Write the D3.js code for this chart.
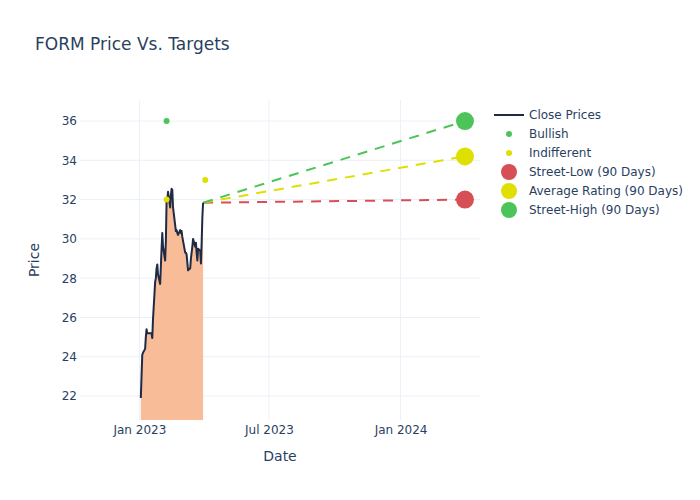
<!DOCTYPE html>
<html>
<head>
<meta charset="utf-8">
<script src="https://cdn.jsdelivr.net/npm/d3@7"></script>
<style>
  body { margin: 0; background: #fff; }
  svg { font-family: "DejaVu Sans", sans-serif; }
</style>
</head>
<body>
<div id="chart"></div>
<script>
// Close prices, Jan-Mar 2023
var dates = [
  "2023-01-03","2023-01-04","2023-01-05","2023-01-06","2023-01-09","2023-01-10","2023-01-11","2023-01-12","2023-01-13",
  "2023-01-17","2023-01-18","2023-01-19","2023-01-20","2023-01-23","2023-01-24","2023-01-25","2023-01-26","2023-01-27",
  "2023-01-30","2023-01-31","2023-02-01","2023-02-02","2023-02-03","2023-02-06","2023-02-07","2023-02-08","2023-02-09",
  "2023-02-10","2023-02-13","2023-02-14","2023-02-15","2023-02-16","2023-02-17","2023-02-21","2023-02-22","2023-02-23",
  "2023-02-24","2023-02-27","2023-02-28","2023-03-01","2023-03-02","2023-03-03","2023-03-06","2023-03-07","2023-03-08",
  "2023-03-09","2023-03-10","2023-03-13","2023-03-14","2023-03-15","2023-03-16","2023-03-17","2023-03-20","2023-03-21",
  "2023-03-22","2023-03-23","2023-03-24","2023-03-27","2023-03-28","2023-03-29","2023-03-30","2023-03-31"
];
var closes = [
  21.9, 23.0, 24.1, 24.2, 24.4, 25.0, 25.4, 25.2, 25.2,
  25.2, 25.2, 24.95, 25.9, 27.8, 28.0, 28.5, 28.7, 28.2,
  27.7, 28.6, 29.5, 30.3, 29.6, 28.9, 29.9, 31.9, 32.0,
  32.4, 31.6, 32.2, 32.55, 32.5, 31.6, 30.4, 30.45, 30.3,
  30.2, 30.45, 30.3, 30.4, 30.1, 29.9, 29.3, 29.3, 29.2,
  28.8, 28.4, 28.5, 29.0, 29.3, 29.6, 30.0, 29.6, 29.8,
  29.3, 28.9, 29.5, 29.4, 28.75, 29.8, 31.1, 31.84
];

// analyst ratings
var bullishDates = ["2023-02-08"];
var bullishTargets = [36];
var indifferentDates = ["2023-02-08", "2023-04-03"];
var indifferentTargets = [32, 33];

// 90-day targets
var targetDate = "2024-03-31";
var targetNames = ["Street-Low (90 Days)", "Average Rating (90 Days)", "Street-High (90 Days)"];
var targetValues = [32, 34.2, 36];
var targetColors = ["#d64f55", "#dfdf00", "#4dc45a"];

var yTicks = [22, 24, 26, 28, 30, 32, 34, 36];
var xTicks = ["2023-01-01", "2023-07-01", "2024-01-01"];

var parse = d3.timeParse("%Y-%m-%d");
var prices = dates.map(function (d, i) { return { date: parse(d), close: closes[i] }; });
var last = prices[prices.length - 1];

var textColor = "#2a3f5f", gridColor = "#ebf0f8";

var margin = { top: 100, left: 80 },
    width = 400, height = 320;

var svg = d3.select("#chart").append("svg")
    .attr("width", 700).attr("height", 500);

svg.append("text")
    .attr("x", 35).attr("y", 50)
    .attr("fill", textColor).style("font-size", "17px")
    .text("FORM Price Vs. Targets");

var g = svg.append("g")
    .attr("transform", "translate(" + margin.left + "," + margin.top + ")");

g.append("clipPath").attr("id", "clip")
    .append("rect").attr("width", width).attr("height", height);

var x = d3.scaleTime()
    .domain([parse("2022-10-10"), parse("2024-04-21")])
    .range([0, width]);
var y = d3.scaleLinear()
    .domain([20.78, 37.07])
    .range([height, 0]);

// grid
g.selectAll(".hgrid").data(yTicks).enter().append("line")
    .attr("x1", 0).attr("x2", width)
    .attr("y1", function (d) { return y(d); }).attr("y2", function (d) { return y(d); })
    .attr("stroke", gridColor);
g.selectAll(".vgrid").data(xTicks).enter().append("line")
    .attr("y1", 0).attr("y2", height)
    .attr("x1", function (d) { return x(parse(d)); }).attr("x2", function (d) { return x(parse(d)); })
    .attr("stroke", gridColor);

// axes
var yAxis = g.append("g")
    .call(d3.axisLeft(y).tickValues(yTicks).tickSize(0).tickPadding(3));
var xAxis = g.append("g")
    .attr("transform", "translate(0," + height + ")")
    .call(d3.axisBottom(x).tickValues(xTicks.map(parse)).tickFormat(d3.timeFormat("%b %Y")).tickSize(0).tickPadding(5));
[yAxis, xAxis].forEach(function (a) {
    a.select(".domain").remove();
    a.selectAll("text").attr("fill", textColor).style("font-size", "12px")
        .style("font-family", "'DejaVu Sans', sans-serif");
});

svg.append("text")
    .attr("x", margin.left + width / 2).attr("y", 461)
    .attr("text-anchor", "middle").attr("fill", textColor).style("font-size", "14px")
    .text("Date");
svg.append("text")
    .attr("transform", "translate(39," + (margin.top + height / 2) + ") rotate(-90)")
    .attr("text-anchor", "middle").attr("fill", textColor).style("font-size", "14px")
    .text("Price");

var plot = g.append("g").attr("clip-path", "url(#clip)");

// area under close
plot.append("path")
    .datum(prices)
    .attr("fill", "#f9bc98")
    .attr("d", d3.area()
        .x(function (d) { return x(d.date); })
        .y0(height + 5)
        .y1(function (d) { return y(d.close); }));

// dashed target lines
targetValues.forEach(function (v, i) {
    plot.append("path")
        .datum([{ date: last.date, close: last.close }, { date: parse(targetDate), close: v }])
        .attr("fill", "none")
        .attr("stroke", targetColors[i])
        .attr("stroke-width", 2)
        .attr("stroke-dasharray", "10,8")
        .attr("d", d3.line()
            .x(function (d) { return x(d.date); })
            .y(function (d) { return y(d.close); }));
});

// close line
plot.append("path")
    .datum(prices)
    .attr("fill", "none")
    .attr("stroke", "#1f2a44")
    .attr("stroke-width", 2)
    .attr("stroke-linejoin", "round")
    .attr("d", d3.line()
        .x(function (d) { return x(d.date); })
        .y(function (d) { return y(d.close); }));

// rating points
bullishDates.forEach(function (d, i) {
    plot.append("circle")
        .attr("cx", x(parse(d))).attr("cy", y(bullishTargets[i]))
        .attr("r", 3).attr("fill", targetColors[2]);
});
indifferentDates.forEach(function (d, i) {
    plot.append("circle")
        .attr("cx", x(parse(d))).attr("cy", y(indifferentTargets[i]))
        .attr("r", 3).attr("fill", targetColors[1]);
});

// target markers
targetValues.forEach(function (v, i) {
    g.append("circle")
        .attr("cx", x(parse(targetDate))).attr("cy", y(v))
        .attr("r", 9).attr("fill", targetColors[i]);
});

// legend
var legendItems = [
    { name: "Close Prices", type: "line", color: "#1f2a44" },
    { name: "Bullish", type: "dot", r: 3, color: targetColors[2] },
    { name: "Indifferent", type: "dot", r: 3, color: targetColors[1] }
];
targetNames.forEach(function (n, i) {
    legendItems.push({ name: n, type: "dot", r: 8, color: targetColors[i] });
});

var legend = svg.append("g").attr("transform", "translate(494,115)");
var rows = legend.selectAll("g").data(legendItems).enter().append("g")
    .attr("transform", function (d, i) { return "translate(0," + i * 19 + ")"; });
rows.filter(function (d) { return d.type === "line"; }).append("line")
    .attr("x1", 0).attr("x2", 30).attr("stroke", function (d) { return d.color; }).attr("stroke-width", 2);
rows.filter(function (d) { return d.type === "dot"; }).append("circle")
    .attr("cx", 15).attr("r", function (d) { return d.r; }).attr("fill", function (d) { return d.color; });
rows.append("text")
    .attr("x", 35).attr("y", 4)
    .attr("fill", textColor).style("font-size", "12px")
    .text(function (d) { return d.name; });
</script>
</body>
</html>
